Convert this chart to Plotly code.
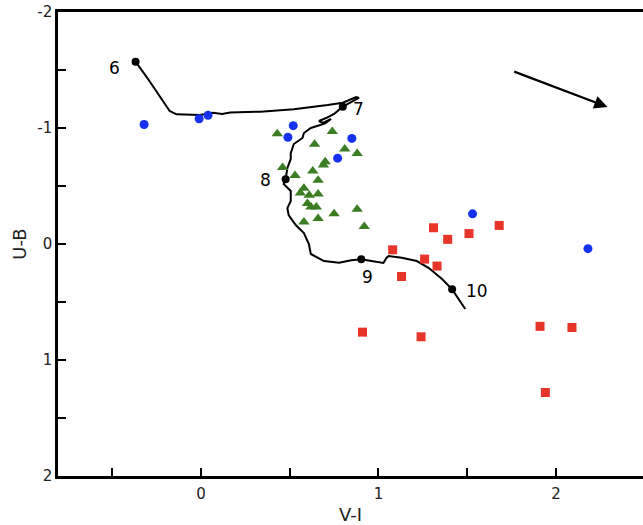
import plotly.graph_objects as go

# Evolutionary track (V-I, U-B)
track_vi = [-0.368, -0.29, -0.176, -0.138, -0.006, 0.068, 0.119, 0.165, 0.335, 0.523, 0.714, 0.799, 0.875, 0.89,
            0.799, 0.75, 0.705, 0.665, 0.688, 0.733, 0.70, 0.619, 0.58, 0.572, 0.523, 0.506, 0.506, 0.487, 0.477,
            0.466, 0.506, 0.506, 0.487, 0.494, 0.534, 0.58, 0.608, 0.619, 0.693, 0.778, 0.847, 0.903, 0.96, 1.028,
            1.045, 1.057, 1.131, 1.216, 1.284, 1.358, 1.415, 1.489]
track_ub = [-1.572, -1.405, -1.147, -1.118, -1.112, -1.132, -1.121, -1.134, -1.141, -1.161, -1.198, -1.218, -1.267, -1.26,
            -1.184, -1.121, -1.086, -1.06, -1.043, -1.078, -1.04, -1.0, -0.957, -0.914, -0.862, -0.784, -0.733, -0.655, -0.558,
            -0.517, -0.457, -0.371, -0.31, -0.25, -0.164, -0.095, 0.0, 0.086, 0.147, 0.161, 0.141, 0.132, 0.147, 0.164,
            0.12, 0.103, 0.118, 0.147, 0.207, 0.302, 0.391, 0.56]

# Labelled ages on the track
age_labels = ["6", "7", "8", "9", "10"]
age_vi = [-0.368, 0.799, 0.477, 0.903, 1.415]
age_ub = [-1.572, -1.184, -0.558, 0.132, 0.391]

# Blue circles
blue_vi = [-0.32, -0.01, 0.04, 0.52, 0.49, 0.85, 0.77, 1.53, 2.18]
blue_ub = [-1.03, -1.08, -1.11, -1.02, -0.92, -0.91, -0.74, -0.26, 0.04]

# Green triangles
green_vi = [0.43, 0.74, 0.64, 0.81, 0.88, 0.70, 0.69, 0.46, 0.63, 0.53, 0.66, 0.58, 0.56, 0.61, 0.66, 0.60,
            0.62, 0.65, 0.75, 0.88, 0.66, 0.58, 0.92]
green_ub = [-0.95, -0.97, -0.86, -0.82, -0.78, -0.71, -0.68, -0.66, -0.63, -0.59, -0.55, -0.48, -0.44, -0.42, -0.43, -0.35,
            -0.32, -0.32, -0.26, -0.30, -0.22, -0.19, -0.15]

# Red squares
red_vi = [1.31, 1.68, 1.39, 1.51, 1.08, 1.26, 1.33, 1.13, 0.91, 1.24, 1.91, 2.09, 1.94]
red_ub = [-0.14, -0.16, -0.04, -0.09, 0.05, 0.13, 0.19, 0.28, 0.76, 0.80, 0.71, 0.72, 1.28]

# Reddening vector
arrow_vi = [1.756, 2.29]
arrow_ub = [-1.491, -1.181]

# Tick labels
x_tickvals = [0, 1, 2]
x_ticktext = ["0", "1", "2"]
y_tickvals = [-2, -1, 0, 1, 2]
y_ticktext = ["-2", "-1", "0", "1", "2"]

fig = go.Figure()
fig.add_trace(go.Scatter(x=track_vi, y=track_ub, mode="lines",
                         line=dict(color="black", width=2), hoverinfo="skip"))
fig.add_trace(go.Scatter(x=blue_vi, y=blue_ub, mode="markers",
                         marker=dict(symbol="circle", size=9, color="#1432f0")))
fig.add_trace(go.Scatter(x=green_vi, y=green_ub, mode="markers",
                         marker=dict(symbol="triangle-up", size=10, color="#3a7d22")))
fig.add_trace(go.Scatter(x=red_vi, y=red_ub, mode="markers",
                         marker=dict(symbol="square", size=9, color="#e8352a")))
fig.add_trace(go.Scatter(x=age_vi, y=age_ub, mode="markers",
                         marker=dict(symbol="circle", size=8, color="black")))

label_pos = [(-21, 6), (16, 2), (-20, 1), (6, 18), (25, 2)]
for lab, xv, yv, (dx, dy) in zip(age_labels, age_vi, age_ub, label_pos):
    fig.add_annotation(x=xv, y=yv, text=lab, showarrow=False, xshift=dx, yshift=-dy,
                       font=dict(size=17, color="black", family="DejaVu Sans"))

fig.add_annotation(x=arrow_vi[1], y=arrow_ub[1], ax=arrow_vi[0], ay=arrow_ub[0],
                   xref="x", yref="y", axref="x", ayref="y", text="", showarrow=True,
                   arrowhead=2, arrowsize=1.2, arrowwidth=2.2, arrowcolor="black")

axis_common = dict(showgrid=False, zeroline=False, showline=True, linecolor="black", linewidth=2.5,
                   ticks="inside", ticklen=8, tickwidth=1.5, tickcolor="black", automargin=False,
                   ticklabeloverflow="allow",
                   tickfont=dict(size=15, color="#222", family="DejaVu Sans"),
                   minor=dict(dtick=0.5, ticks="inside", ticklen=8, tickwidth=1.5, tickcolor="black"))

fig.update_xaxes(range=[-0.805, 2.49], tickmode="array", tickvals=x_tickvals, ticktext=x_ticktext, mirror=True,
                 ticklabelstandoff=2,
                 title=dict(text="V-I", font=dict(size=18, color="#222", family="DejaVu Sans"), standoff=10),
                 **axis_common)
fig.update_yaxes(range=[2, -2], tickmode="array", tickvals=y_tickvals, ticktext=y_ticktext, mirror=False,
                 ticklabelstandoff=0,
                 title=dict(text="U-B", font=dict(size=18, color="#222", family="DejaVu Sans"), standoff=6),
                 **axis_common)

fig.update_layout(width=643, height=525, showlegend=False,
                  margin=dict(l=58, r=0, t=12, b=49),
                  plot_bgcolor="white", paper_bgcolor="white",
                  font=dict(family="DejaVu Sans"))

fig.write_html("out.html", config={"displayModeBar": False},
               post_script="document.body.style.margin='0';")
